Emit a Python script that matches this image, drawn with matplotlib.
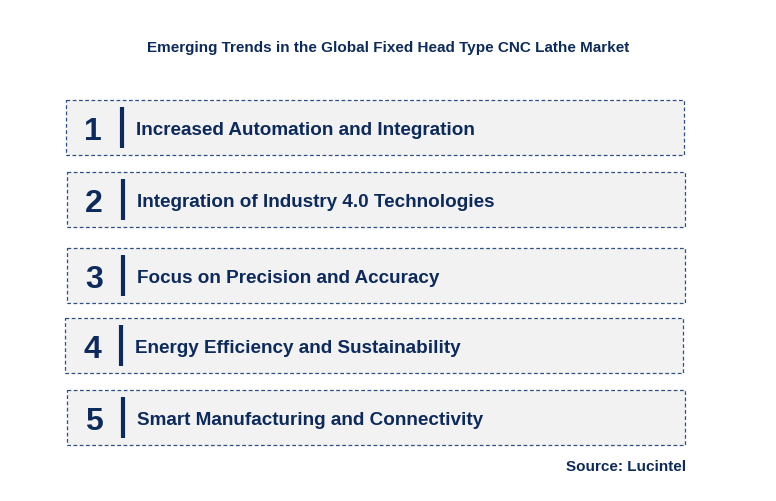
import matplotlib.pyplot as plt
from matplotlib.patches import Rectangle

TITLE = "Emerging Trends in the Global Fixed Head Type CNC Lathe Market"
SOURCE = "Source: Lucintel"
numbers = ["1", "2", "3", "4", "5"]
trends = [
    "Increased Automation and Integration",
    "Integration of Industry 4.0 Technologies",
    "Focus on Precision and Accuracy",
    "Energy Efficiency and Sustainability",
    "Smart Manufacturing and Connectivity",
]

NAVY = "#0d2a5c"
box_left = [66, 67, 67, 65, 67]
box_top = [100, 172, 248, 318, 390]
box_w, box_h = 618, 55

fig = plt.figure(figsize=(7.76, 5.01), dpi=100)
ax = fig.add_axes([0, 0, 1, 1])
ax.set_xlim(0, 776)
ax.set_ylim(501, 0)
ax.axis("off")

ax.text(388, 48, TITLE, ha="center", va="center", fontsize=11,
        fontweight="bold", color=NAVY, family="Liberation Sans")

for num, label, x0, y0 in zip(numbers, trends, box_left, box_top):
    ax.add_patch(Rectangle((x0, y0), box_w, box_h, facecolor="#f2f2f2",
                           edgecolor="#2f4f8a", linestyle=(0, (3, 2)), linewidth=0.9))
    cy = y0 + box_h / 2
    ax.text(x0 + 27, cy + 4, num, ha="center", va="center", fontsize=23,
            fontweight="bold", color=NAVY, family="Liberation Sans")
    ax.plot([x0 + 56, x0 + 56], [y0 + 7, y0 + box_h - 7], color=NAVY, linewidth=3,
            solid_capstyle="butt")
    ax.text(x0 + 70, cy + 3, label, ha="left", va="center", fontsize=13.6,
            fontweight="bold", color=NAVY, family="Liberation Sans")

ax.text(686, 467, SOURCE, ha="right", va="center", fontsize=11,
        fontweight="bold", color=NAVY, family="Liberation Sans")

fig.savefig("out.png", dpi=100)
